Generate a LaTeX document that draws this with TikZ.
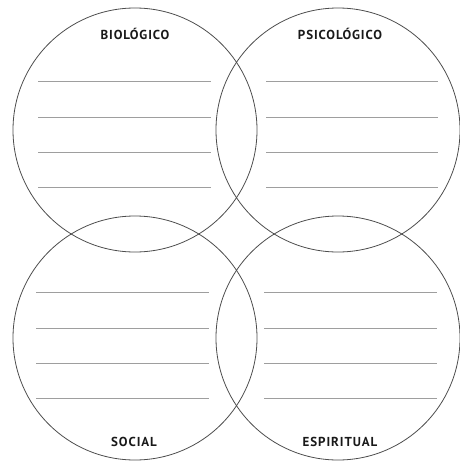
\documentclass[tikz,border=0pt]{standalone}
\usepackage{fontspec}
\setmainfont{PT Sans}
\newfontfamily\lblfont[LetterSpace=7]{PT Sans}
\usetikzlibrary{positioning}
\tikzset{
  ring/.style={line width=0.8pt,black!70},
  rule/.style={line width=1pt,black!38},
  lbl/.style={font=\lblfont\bfseries\fontsize{13}{15}\selectfont,black!90,inner sep=0pt},
}
\begin{document}
\begin{tikzpicture}[x=1pt,y=-1pt]
  \useasboundingbox (0,0) rectangle (459,461);
  % ---- the four circles ----
  \coordinate (bio) at (135,130);
  \coordinate (psi) at (338,130);
  \coordinate (soc) at (135,338);
  \coordinate (esp) at (338,338);
  \foreach \c in {bio,psi,soc,esp} \draw[ring] (\c) circle[radius=122pt];
  % ---- writing lines ----
  \foreach \y in {81,117,152,187} {
    \draw[rule] (38,\y) -- (211,\y);
    \draw[rule] (266,\y) -- (438,\y);
  }
  \foreach \y in {292,328,363,398} {
    \draw[rule] (36,\y) -- (209,\y);
    \draw[rule] (264,\y) -- (437,\y);
  }
  % ---- labels ----
  \node[lbl] (tbio) at (135,34) {BIOLÓGICO};
  \node[lbl] (tpsi) at (340,34) {PSICOLÓGICO};
  \node[lbl] (tsoc) at (134,442) {SOCIAL};
  \node[lbl] (tesp) at (340,442) {ESPIRITUAL};
\end{tikzpicture}
\end{document}
